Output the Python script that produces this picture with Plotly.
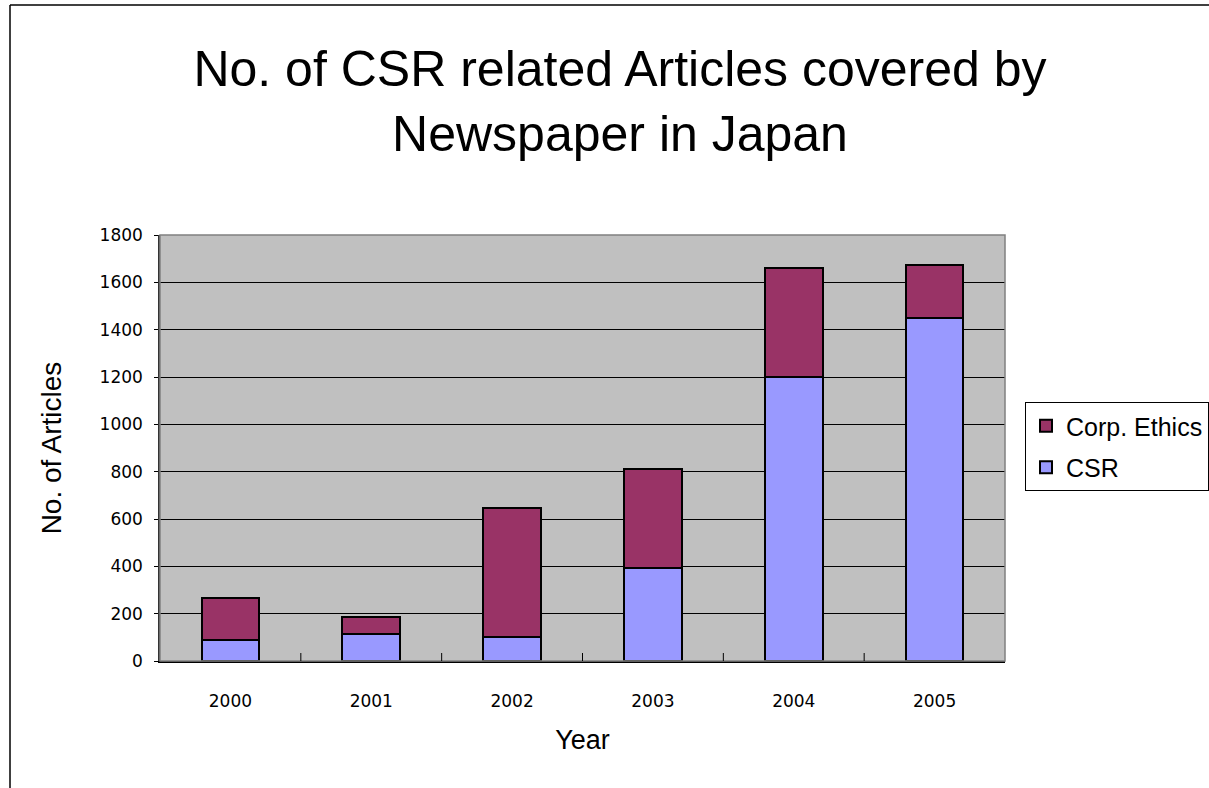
import plotly.graph_objects as go

years = ["2000", "2001", "2002", "2003", "2004", "2005"]
csr = [90, 115, 100, 395, 1200, 1450]
corp_ethics = [175, 70, 545, 415, 460, 225]
y_ticks = [0, 200, 400, 600, 800, 1000, 1200, 1400, 1600, 1800]

W, H = 1209, 788
L, R, T, B = 160, 1005, 235, 661

fig = go.Figure()
fig.add_trace(go.Bar(x=years, y=csr, name="CSR", legendgroup="b", legendrank=2,
                     marker=dict(color="#9999FF", line=dict(color="black", width=2)),
                     width=0.41))
fig.add_trace(go.Bar(x=years, y=corp_ethics, name="Corp. Ethics", legendgroup="a", legendrank=1,
                     marker=dict(color="#993366", line=dict(color="black", width=2)),
                     width=0.41))

font = "Liberation Sans, Arial, sans-serif"
tickfont = "DejaVu Sans, sans-serif"
fig.update_layout(
    width=W, height=H,
    margin=dict(l=L, r=W - R, t=T, b=H - B, autoexpand=False),
    barmode="stack",
    bargap=0.59,
    paper_bgcolor="white",
    plot_bgcolor="#C0C0C0",
    font=dict(family=font, color="black"),
    title=dict(text="No. of CSR related Articles covered by<br>Newspaper in Japan",
               x=620 / W, xanchor="center", y=1 - 86 / H, yanchor="middle",
               font=dict(size=50, family=font, color="black")),
    legend=dict(traceorder="grouped", xref="container", yref="container",
                x=1025 / W, xanchor="left", y=1 - 402 / H, yanchor="top",
                bordercolor="black", borderwidth=1, bgcolor="white",
                font=dict(size=25, family=font, color="black"),
                itemwidth=30, tracegroupgap=6),
    xaxis=dict(
        title=dict(text="Year", font=dict(size=27, family=font), standoff=20),
        tickfont=dict(size=17, family=tickfont),
        showline=True, linecolor="black", linewidth=1.5,
        ticks="", ticklabelstandoff=24,
        showgrid=False,
    ),
    yaxis=dict(
        title=dict(text="No. of Articles", font=dict(size=28, family=font), standoff=30),
        range=[0, 1800], tickvals=y_ticks,
        tickfont=dict(size=17, family=tickfont),
        showline=True, linecolor="#333333", linewidth=1.5,
        ticks="outside", ticklen=4, tickcolor="black", ticklabelstandoff=8,
        showgrid=True, gridcolor="black", gridwidth=1,
        zeroline=False,
    ),
    shapes=[
        dict(type="rect", xref="paper", yref="paper", x0=0, x1=1, y0=0, y1=1,
             line=dict(color="#808080", width=1.5), layer="above"),
        dict(type="line", xref="paper", yref="paper",
             x0=(10 - L) / (R - L), x1=(10 - L) / (R - L),
             y0=(B - 5) / (B - T), y1=(B - 800) / (B - T),
             line=dict(color="black", width=1.5)),
        dict(type="line", xref="paper", yref="paper",
             x0=(10 - L) / (R - L), x1=(1220 - L) / (R - L),
             y0=(B - 5) / (B - T), y1=(B - 5) / (B - T),
             line=dict(color="black", width=1.5)),
    ],
)

for i in range(1, len(years)):
    fig.add_shape(type="line", xref="x", yref="paper", x0=i - 0.5, x1=i - 0.5,
                  y0=0, y1=8 / (B - T), line=dict(color="black", width=1))

fig.write_html("out.html")
